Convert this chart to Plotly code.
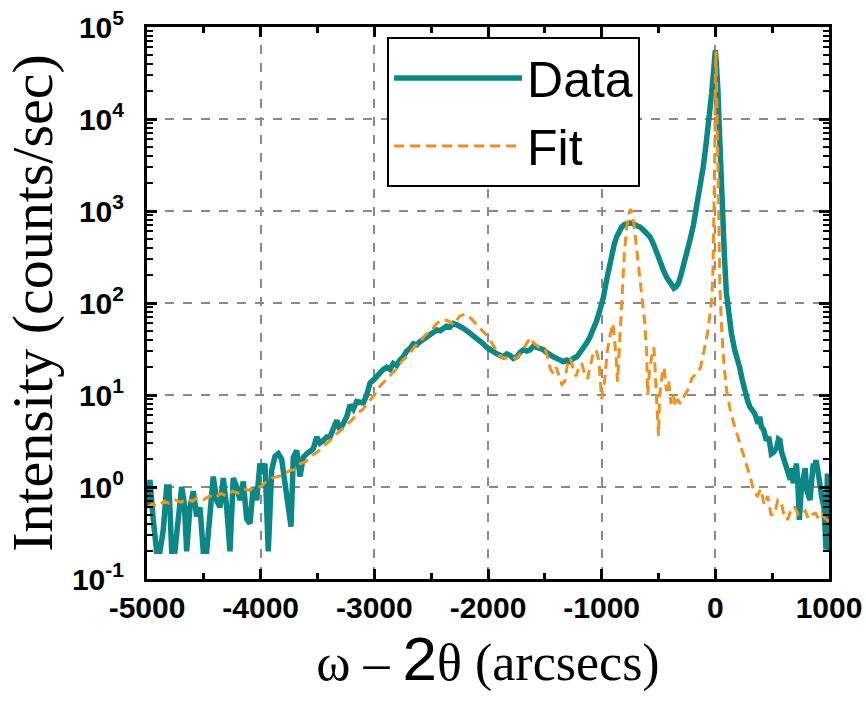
import plotly.graph_objects as go

# ---------------- data ----------------
data_x = [
    -5000, -4974, -4945, -4915, -4886, -4857, -4827, -4806, -4783, -4754,
    -4725, -4695, -4672, -4651, -4622, -4593, -4563, -4534, -4505, -4475,
    -4446, -4417, -4387, -4358, -4329, -4299, -4270, -4241, -4211, -4182,
    -4153, -4123, -4094, -4065, -4035, -4006, -3984, -3962, -3933, -3903,
    -3874, -3845, -3815, -3786, -3757, -3733, -3713, -3683, -3654, -3625,
    -3595, -3566, -3537, -3507, -3478, -3449, -3419, -3390, -3361, -3331,
    -3302, -3273, -3243, -3214, -3185, -3155, -3126, -3097, -3067, -3038,
    -3009, -2979, -2950, -2921, -2891, -2862, -2833, -2803, -2775, -2745,
    -2716, -2686, -2657, -2627, -2598, -2569, -2540, -2510, -2480, -2451,
    -2422, -2393, -2364, -2334, -2305, -2275, -2246, -2217, -2188, -2158,
    -2129, -2099, -2070, -2041, -2011, -1982, -1952, -1923, -1894, -1865,
    -1835, -1806, -1777, -1747, -1718, -1689, -1660, -1630, -1600, -1571,
    -1542, -1513, -1484, -1454, -1425, -1395, -1366, -1337, -1307, -1278,
    -1249, -1219, -1190, -1161, -1131, -1102, -1072, -1043, -1014, -985,
    -956, -926, -912, -890, -868, -846, -824, -802, -780, -758,
    -736, -714, -692, -663, -633, -604, -575, -545, -516, -487,
    -457, -428, -399, -380, -364, -345, -325, -303, -281, -252,
    -223, -193, -164, -135, -106, -84, -62, -45, -32, -15,
    -3, 0, 8, 15, 23, 33, 44, 55, 67, 80,
    97, 115, 141, 170, 190, 214, 235, 258, 280, 302,
    325, 346, 362, 376, 390, 405, 425, 449, 470, 493,
    515, 540, 555, 569, 583, 598, 620, 642, 660, 675,
    686, 700, 713, 725, 739, 755, 774, 790, 804, 820,
    833, 848, 862, 874, 886, 906, 920, 936, 956, 974,
    986, 995, 1000,
]
data_y = [
    0.6, 1.19, 0.44, 0.2, 0.2, 0.34, 1.0, 1.0, 0.2, 0.2,
    0.45, 1.0, 0.67, 0.2, 0.6, 0.9, 0.48, 0.6, 0.2, 0.2,
    0.5, 1.3, 0.72, 0.6, 1.25, 0.6, 0.2, 1.25, 1.0, 0.72,
    1.15, 0.45, 0.4, 1.0, 0.72, 1.8, 1.4, 1.8, 0.2, 1.53,
    2.14, 2.3, 2.0, 1.1, 0.67, 0.37, 2.1, 2.5, 1.3, 2.1,
    2.3, 2.5, 2.6, 3.5, 3.0, 3.2, 3.5, 3.5, 4.2, 5.3,
    4.2, 5.0, 5.8, 7.8, 7.0, 8.5, 8.2, 8.2, 10, 13.5,
    14.5, 16, 17, 19, 20, 19, 22, 21, 24, 26,
    30, 32, 36, 35, 38, 40, 42, 45, 48, 51,
    50, 53, 56, 55, 60, 58, 56, 53, 50, 47,
    44, 41, 38, 36, 33, 31, 29, 28, 27, 26,
    28, 27, 25, 26, 29, 31, 30, 31, 34, 33,
    32, 31, 29, 27, 26, 25, 24, 23, 24, 23,
    25, 26, 29, 32, 37, 43, 52, 65, 85, 115,
    180, 280, 347, 430, 525, 610, 670, 710, 735, 740,
    735, 720, 700, 670, 620, 580, 525, 440, 347, 290,
    228, 190, 164, 152, 145, 150, 164, 200, 248, 340,
    484, 700, 1114, 1800, 3030, 5000, 8260, 12500, 19000, 33000,
    53700, 56000, 42000, 32000, 20000, 9000, 3500, 1700, 750, 320,
    130, 75, 47, 31, 26, 20, 15, 11, 9, 7.5,
    6.8, 6.3, 5.5, 4.9, 5.8, 4.5, 4.2, 3.2, 3.5, 2.3,
    2.4, 2.7, 3.3, 3.2, 2.4, 2.1, 1.8, 1.4, 1.2, 1.6,
    1.1, 1.3, 1.8, 1.2, 0.44, 0.9, 1.4, 1.6, 0.93, 0.8,
    0.72, 1.2, 1.8, 1.6, 1.95, 1.4, 1.0, 0.78, 0.6, 0.21,
    1.4, 0.7, 0.2,
]

fit_x = [
    -5000, -4950, -4900, -4850, -4800, -4750, -4700, -4650, -4600, -4550,
    -4500, -4450, -4400, -4350, -4300, -4250, -4200, -4150, -4100, -4050,
    -4000, -3950, -3900, -3850, -3800, -3750, -3700, -3650, -3600, -3550,
    -3500, -3450, -3400, -3350, -3300, -3250, -3200, -3150, -3100, -3050,
    -3000, -2950, -2900, -2850, -2800, -2750, -2700, -2650, -2600, -2550,
    -2500, -2450, -2400, -2350, -2300, -2250, -2200, -2150, -2100, -2050,
    -2000, -1950, -1900, -1850, -1800, -1750, -1700, -1650, -1625, -1600,
    -1550, -1500, -1475, -1450, -1425, -1400, -1375, -1350, -1325, -1300,
    -1275, -1250, -1225, -1200, -1175, -1150, -1125, -1100, -1075, -1050,
    -1025, -1000, -975, -950, -925, -900, -875, -860, -840, -820,
    -800, -780, -760, -745, -730, -715, -700, -680, -660, -640,
    -620, -605, -595, -580, -560, -540, -525, -510, -500, -490,
    -470, -450, -430, -410, -390, -370, -350, -330, -310, -290,
    -270, -250, -230, -210, -190, -170, -150, -130, -110, -90,
    -70, -50, -30, -20, -12, -6, 0, 5, 12, 20,
    30, 40, 55, 75, 100, 130, 160, 190, 220, 250,
    280, 310, 340, 370, 400, 430, 460, 490, 520, 550,
    580, 610, 640, 670, 700, 730, 760, 790, 820, 850,
    880, 910, 940, 970, 1000,
]
fit_y = [
    0.6, 0.65, 0.62, 0.7, 0.66, 0.72, 0.68, 0.74, 0.7, 0.78,
    0.73, 0.8, 0.76, 0.85, 0.8, 0.9, 0.86, 0.95, 0.92, 1.02,
    1.0, 1.15, 1.25, 1.3, 1.35, 1.5, 1.55, 1.8, 1.9, 2.2,
    2.4, 2.8, 3.1, 3.6, 4.1, 4.7, 5.3, 6.3, 7.0, 8.4,
    10, 12.5, 14.5, 17, 19.5, 24, 27, 33, 38, 45,
    50, 60, 66, 64, 58, 72, 76, 68, 58, 50,
    43, 34, 27, 25, 26, 25, 30, 38, 42, 37,
    33, 32, 26, 19, 17, 20, 16, 13, 14, 22,
    25, 19, 16, 20, 22, 17, 15, 21, 28, 31,
    24, 9, 14, 30, 45, 60, 28, 14, 45, 150,
    350, 650, 950, 1050, 900, 700, 480, 280, 170, 110,
    60, 30, 10, 18, 26, 33, 14, 5, 3.6, 10,
    16, 20, 11, 14, 8, 10, 7.5, 9, 8, 9,
    10, 11, 12, 15, 16, 17, 18, 20, 26, 35,
    46, 70, 115, 250, 900, 3500, 25000, 55000, 20000, 4000,
    600, 150, 55, 22, 11, 7, 5, 3.8, 3, 2.3,
    1.7, 1.25, 0.88, 0.8, 0.95, 0.64, 0.8, 0.5, 0.5, 0.72,
    0.68, 0.45, 0.45, 0.6, 0.6, 0.5, 0.5, 0.55, 0.45, 0.5,
    0.52, 0.45, 0.5, 0.45, 0.42,
]

x_tick_vals = [-5000, -4000, -3000, -2000, -1000, 0, 1000]
x_tick_text = ["-5000", "-4000", "-3000", "-2000", "-1000", "0", "1000"]
x_minor_vals = [-4500, -3500, -2500, -1500, -500, 500]
y_tick_vals = [0.1, 1, 10, 100, 1000, 10000, 100000]
y_tick_text = ["10<sup>-1</sup>", "10<sup>0</sup>", "10<sup>1</sup>", "10<sup>2</sup>",
               "10<sup>3</sup>", "10<sup>4</sup>", "10<sup>5</sup>"]
y_minor_vals = [m * 10.0 ** e for e in range(-1, 5) for m in range(2, 10)]

TEAL = "#0B8886"
ORANGE = "#F0901E"
GRID = "#8a8a8a"
SANS = "Liberation Sans, Arial, sans-serif"
SERIF = "Liberation Serif, Times New Roman, serif"

fig = go.Figure()
fig.add_trace(go.Scatter(x=data_x, y=data_y, mode="lines", name="Data",
                         line=dict(color=TEAL, width=5.5)))
fig.add_trace(go.Scatter(x=fit_x, y=fit_y, mode="lines", name="Fit",
                         line=dict(color=ORANGE, width=3, dash="10px,6px")))

tickfont = dict(family=SANS, size=30, color="black", weight="bold")

fig.update_layout(
    width=866, height=704,
    margin=dict(l=147, r=37, t=27, b=125),
    plot_bgcolor="white", paper_bgcolor="white",
    showlegend=True,
    legend=dict(x=0.352, y=0.982, xanchor="left", yanchor="top",
                bordercolor="black", borderwidth=2, bgcolor="white",
                font=dict(family=SANS, size=50, color="black"),
                itemwidth=128, tracegroupgap=0),
    xaxis=dict(
        range=[-5000, 1000], tickmode="array", tickvals=x_tick_vals, ticktext=x_tick_text,
        ticks="inside", ticklen=10, tickwidth=3, tickcolor="black",
        showline=True, linewidth=3, linecolor="black", mirror="ticks",
        showgrid=True, gridcolor=GRID, gridwidth=1.5, griddash="dash",
        zeroline=False, tickfont=tickfont, automargin=False, ticklabeloverflow="allow",
        minor=dict(tickmode="array", tickvals=x_minor_vals, ticks="inside",
                   ticklen=6, tickwidth=2.5, tickcolor="black", showgrid=False),
        title=dict(text='ω – <span style="font-size:62px;font-family:Liberation Sans">2</span>θ (arcsecs)',
                   font=dict(family=SERIF, size=52, color="black"), standoff=10),
    ),
    yaxis=dict(
        type="log", range=[-1, 5], tickmode="array", tickvals=y_tick_vals, ticktext=y_tick_text,
        ticks="inside", ticklen=10, tickwidth=3, tickcolor="black",
        showline=True, linewidth=3, linecolor="black", mirror="ticks",
        showgrid=True, gridcolor=GRID, gridwidth=1.5, griddash="dash",
        zeroline=False, tickfont=tickfont, automargin=False, ticklabelstandoff=14,
        ticklabeloverflow="allow",
        minor=dict(tickmode="array", tickvals=y_minor_vals, ticks="inside",
                   ticklen=6, tickwidth=2, tickcolor="black", showgrid=False),
        title=dict(text="Intensity (counts/sec)",
                   font=dict(family=SERIF, size=58, color="black"), standoff=18),
    ),
)

# remove the browser's default 8px body margin so the figure sits at the page corner
fig.write_html("out.html", config={"displayModeBar": False},
               post_script="document.body.style.margin='0';")
